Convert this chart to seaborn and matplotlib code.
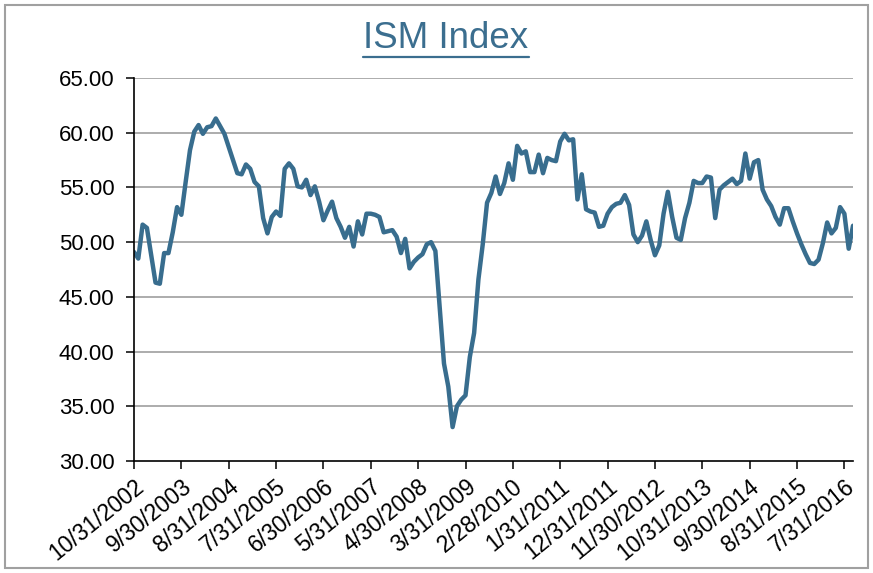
import seaborn as sns
import numpy as np
import matplotlib.pyplot as plt
import pandas as pd
from matplotlib.lines import Line2D
from matplotlib.patches import Rectangle

# month-end dates, 10/31/2002 .. 9/30/2016
start_date = "2002-10-31"
n_months = 168
tick_step = 11

ism = [
    49.1, 48.5, 51.6, 51.3, 48.8, 46.3, 46.2, 49.0, 49.0, 50.9, 53.2, 52.5,   # 10/02 - 9/03
    55.5, 58.4, 60.1, 60.7, 59.9, 60.5, 60.6, 61.3, 60.6, 59.9, 58.7, 57.5,   # 10/03 - 9/04
    56.3, 56.2, 57.1, 56.7, 55.5, 55.1, 52.2, 50.8, 52.3, 52.8, 52.4, 56.7,   # 10/04 - 9/05
    57.2, 56.7, 55.1, 55.0, 55.7, 54.3, 55.1, 53.7, 52.0, 52.9, 53.7, 52.2,   # 10/05 - 9/06
    51.4, 50.4, 51.4, 49.6, 51.9, 50.7, 52.6, 52.6, 52.5, 52.3, 50.9, 51.0,   # 10/06 - 9/07
    51.1, 50.5, 49.0, 50.3, 47.6, 48.2, 48.6, 48.9, 49.8, 50.0, 49.2, 44.0,   # 10/07 - 9/08
    38.9, 36.8, 33.1, 35.0, 35.6, 36.0, 39.5, 41.7, 46.6, 49.8, 53.6, 54.5,   # 10/08 - 9/09
    56.0, 54.4, 55.4, 57.2, 55.7, 58.8, 58.1, 58.3, 56.4, 56.4, 58.0, 56.3,   # 10/09 - 9/10
    57.7, 57.5, 57.4, 59.2, 59.9, 59.3, 59.4, 53.9, 56.2, 53.0, 52.8, 52.7,   # 10/10 - 9/11
    51.4, 51.5, 52.6, 53.2, 53.5, 53.6, 54.3, 53.4, 50.7, 50.0, 50.6, 51.9,   # 10/11 - 9/12
    50.2, 48.8, 49.7, 52.6, 54.6, 52.3, 50.4, 50.2, 52.2, 53.6, 55.6, 55.4,   # 10/12 - 9/13
    55.4, 56.0, 55.9, 52.2, 54.8, 55.2, 55.5, 55.8, 55.3, 55.6, 58.1, 55.8,   # 10/13 - 9/14
    57.3, 57.5, 54.8, 53.9, 53.3, 52.3, 51.6, 53.1, 53.1, 51.9, 50.8, 49.8,   # 10/14 - 9/15
    48.9, 48.1, 48.0, 48.4, 49.9, 51.8, 50.8, 51.3, 53.2, 52.6, 49.4, 51.5,   # 10/15 - 9/16
]

y_ticks = [30, 35, 40, 45, 50, 55, 60, 65]

dates = pd.date_range(start_date, periods=n_months, freq="ME")
date_labels = [f"{d.month}/{d.day}/{d.year}" for d in dates]
df = pd.DataFrame({"idx": np.arange(n_months), "ISM": ism})

sns.set_style("white")
plt.rcParams["font.family"] = ["Liberation Sans", "DejaVu Sans"]

W, H = 873, 573
fig = plt.figure(figsize=(W / 100, H / 100), dpi=100)
ax = fig.add_axes([134 / W, (H - 461) / H, 719 / W, 383 / H])

for v in y_ticks[1:]:
    ax.axhline(v, color="#a6a6a6", lw=1.3, zorder=0)

sns.lineplot(data=df, x="idx", y="ISM", ax=ax, color="#386d8e", lw=3.2)

ax.set_xlim(0, n_months - 1)
ax.set_ylim(30, 65)
ax.set_yticks(y_ticks)
ax.set_yticklabels([f"{v:.2f}" for v in y_ticks], fontsize=16, color="black")
tick_pos = list(range(0, n_months, tick_step))
ax.set_xticks(tick_pos)
ax.set_xticklabels([date_labels[i] for i in tick_pos], rotation=39,
                   ha="right", rotation_mode="anchor", fontsize=16.5, color="black")
ax.tick_params(axis="both", direction="out", length=6, width=1.1,
               color="black", bottom=True, left=True)
ax.tick_params(axis="y", pad=8)
ax.tick_params(axis="x", pad=4)
ax.set_xlabel("")
ax.set_ylabel("")
for s in ["top", "right"]:
    ax.spines[s].set_visible(False)
for s in ["left", "bottom"]:
    ax.spines[s].set_color("black")
    ax.spines[s].set_linewidth(1.2)

# title with underline
title = fig.text(446 / W, 1 - 48 / H, "ISM Index", ha="center", va="baseline",
                 fontsize=26.5, color="#3b6e8f")
fig.canvas.draw()
bb = title.get_window_extent(fig.canvas.get_renderer())
uy = bb.y0 - 1
fig.add_artist(Line2D([bb.x0 / W, bb.x1 / W], [uy / H, uy / H],
                      color="#3b6e8f", lw=1.6, transform=fig.transFigure))

# outer chart border
fig.add_artist(Rectangle((5 / W, 5 / H), 863 / W, 563 / H, fill=False,
                         edgecolor="#a0a0a0", lw=1.5, transform=fig.transFigure))

fig.savefig("out.png", dpi=100)
